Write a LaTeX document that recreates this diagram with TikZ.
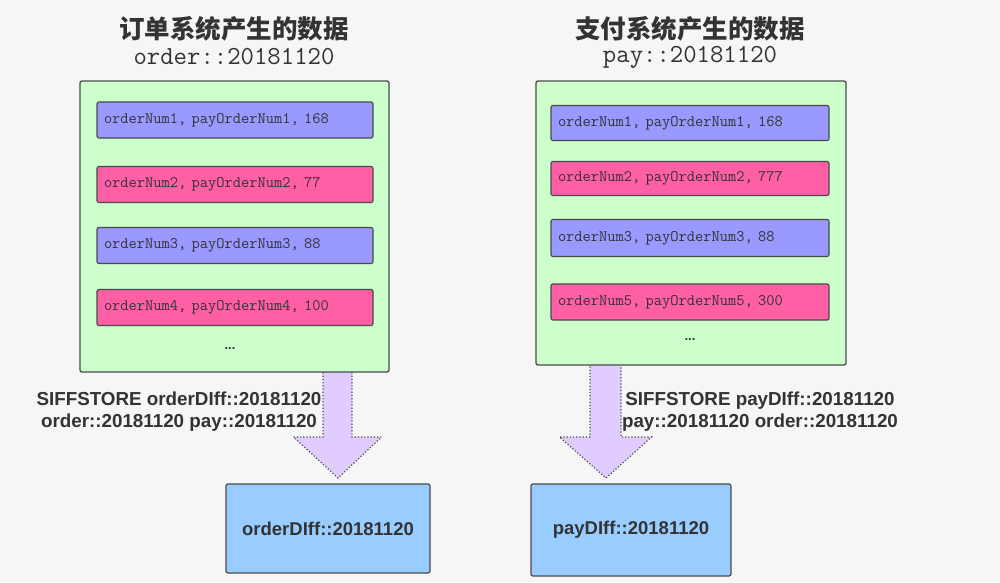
\documentclass[tikz,border=0pt]{standalone}
\usepackage{fontspec}
\setmainfont{Liberation Sans}
\newfontfamily\cjk{Noto Sans CJK SC}
\usetikzlibrary{calc}
\definecolor{bgc}{HTML}{F6F6F6}
\definecolor{greenc}{HTML}{CCFFCC}
\definecolor{purc}{HTML}{9999FF}
\definecolor{pinkc}{HTML}{FF5FA5}
\definecolor{bluec}{HTML}{99CCFF}
\definecolor{arrc}{HTML}{E0CCFF}
\definecolor{edgec}{HTML}{4A4A4A}
\definecolor{txtc}{HTML}{333333}
\tikzset{
  container/.style={draw=edgec, line width=1.3pt, fill=greenc, rounded corners=2pt, inner sep=0pt},
  rowbox/.style={draw=edgec, line width=1.2pt, rounded corners=2pt, minimum height=36pt,
     text width=262pt, inner xsep=7pt, align=left, font=\ttfamily\fontsize{16}{18}\selectfont, text=txtc},
  purrow/.style={rowbox, fill=purc},
  pinkrow/.style={rowbox, fill=pinkc},
  result/.style={draw=edgec, line width=1.2pt, fill=bluec, rounded corners=2pt,
     font=\bfseries\fontsize{18.5}{22}\selectfont, text=txtc},
  bigarrow/.style={fill=arrc, draw=edgec, line width=1.2pt, dotted},
  cmdlabel/.style={font=\bfseries\fontsize{18.8}{22}\selectfont, text=txtc, align=center},
  title/.style={text=txtc, align=center},
  dotsnode/.style={font=\bfseries\fontsize{13}{15}\selectfont, text=txtc}
}
\begin{document}
\begin{tikzpicture}[x=1pt,y=-1pt]
\useasboundingbox (0,0) rectangle (1000,582);
\fill[bgc] (0,0) rectangle (1000,582);

% titles
\node[title] (t1a) at (234,29) {\cjk\bfseries\fontsize{25.5}{28}\selectfont 订单系统产生的数据};
\node[title] (t1b) at (234,57) {\ttfamily\fontsize{26}{28}\selectfont order::20181120};
\node[title] (t2a) at (690,29) {\cjk\bfseries\fontsize{25.5}{28}\selectfont 支付系统产生的数据};
\node[title] (t2b) at (690,57) {\ttfamily\fontsize{26}{28}\selectfont pay::20181120};

% arrows (drawn first so their tops hide beneath the containers)
\coordinate (la) at (337.5,366);
\coordinate (lt) at (338,478);
\draw[bigarrow] ($(la)+(-14.5,0)$) -- ($(la)+(-14.5,71)$) -- ($(la)+(-44,71)$) -- (lt)
   -- ($(la)+(44,71)$) -- ($(la)+(14.5,71)$) -- ($(la)+(14.5,0)$);
\coordinate (ra) at (605.5,360);
\coordinate (rt) at (606,478);
\draw[bigarrow] ($(ra)+(-15.5,0)$) -- ($(ra)+(-15.5,77)$) -- ($(ra)+(-46,77)$) -- (rt)
   -- ($(ra)+(46,77)$) -- ($(ra)+(15.5,77)$) -- ($(ra)+(15.5,0)$);

% containers
\node[container, minimum width=309pt, minimum height=291pt] (gl) at (234.5,226.5) {};
\node[container, minimum width=310pt, minimum height=284pt] (gr) at (691,223) {};

% left rows
\node[purrow, text width=262pt] (l1) at (235,120) {orderNum1, payOrderNum1, 168};
\node[pinkrow, text width=262pt] (l2) at (235,184.5) {orderNum2, payOrderNum2, 77};
\node[purrow, text width=262pt] (l3) at (235,245.5) {orderNum3, payOrderNum3, 88};
\node[pinkrow, text width=262pt] (l4) at (235,307.5) {orderNum4, payOrderNum4, 100};
\node[dotsnode] (ld) at (230,349) {...};

% right rows
\node[purrow, text width=264pt, minimum height=35pt] (r1) at (690,123) {orderNum1, payOrderNum1, 168};
\node[pinkrow, text width=264pt, minimum height=34pt] (r2) at (690,178.5) {orderNum2, payOrderNum2, 777};
\node[purrow, text width=264pt, minimum height=37pt] (r3) at (690,238) {orderNum3, payOrderNum3, 88};
\node[pinkrow, text width=264pt, minimum height=36pt] (r4) at (690,302) {orderNum5, payOrderNum5, 300};
\node[dotsnode] (rd) at (690,340) {...};

% commands
\node[cmdlabel] (lc) at (179,412) {SIFFSTORE orderDIff::20181120\\order::20181120 pay::20181120};
\node[cmdlabel] (rc) at (760,412) {SIFFSTORE payDIff::20181120\\pay::20181120 order::20181120};

% results
\node[result, minimum width=204pt, minimum height=89pt] (bl) at (328,528.5) {orderDIff::20181120};
\node[result, minimum width=200pt, minimum height=92pt] (br) at (631,530) {payDIff::20181120};
\end{tikzpicture}
\end{document}
